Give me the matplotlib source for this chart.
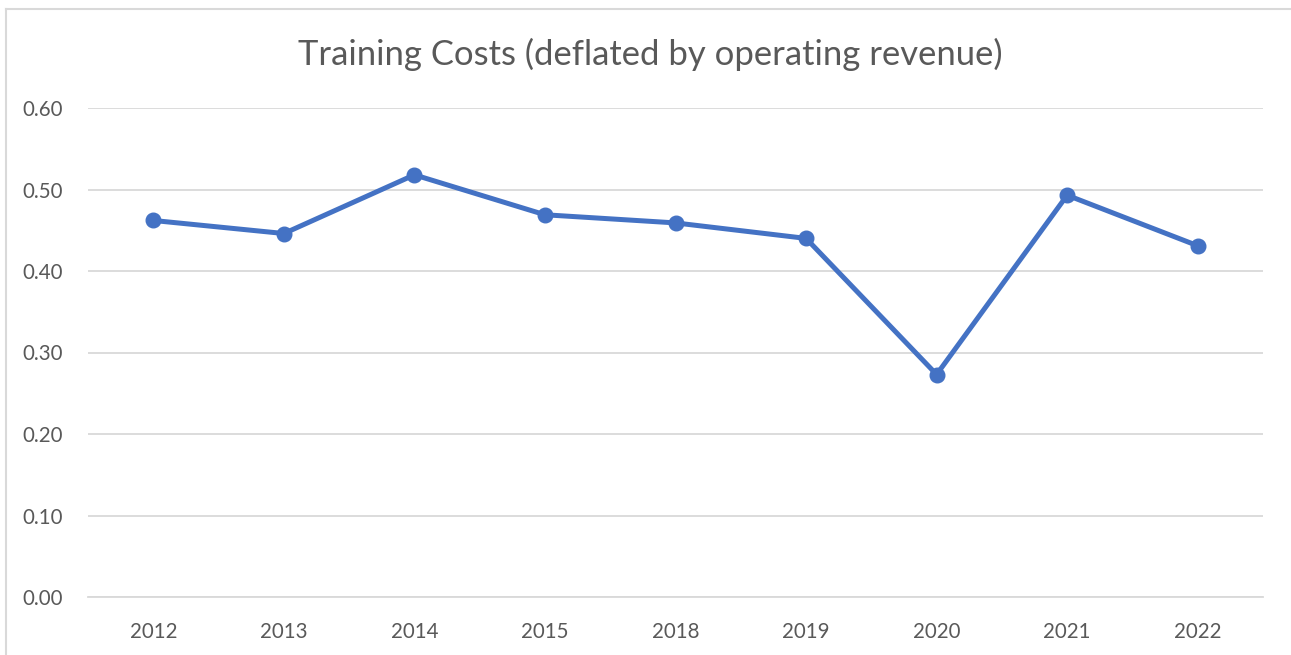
import matplotlib.pyplot as plt
from matplotlib.lines import Line2D

years = ["2012", "2013", "2014", "2015", "2018", "2019", "2020", "2021", "2022"]
costs = [0.462, 0.446, 0.518, 0.469, 0.459, 0.440, 0.273, 0.493, 0.431]
y_ticks = [0.0, 0.1, 0.2, 0.3, 0.4, 0.5, 0.6]

plt.rcParams["font.family"] = ["Lato", "DejaVu Sans"]
text_color = "#595959"
line_color = "#4472C4"
grid_color = "#d9d9d9"

fig = plt.figure(figsize=(12.91, 6.55), dpi=100)
ax = fig.add_axes([88 / 1291, 1 - 597 / 655, 1175 / 1291, 489 / 655])

x = range(len(years))
ax.plot(x, costs, color=line_color, linewidth=3.6, marker="o", markersize=10.5,
        solid_capstyle="round", zorder=3)

ax.set_xlim(-0.5, len(years) - 0.5)
ax.set_ylim(0, 0.6)
ax.set_yticks(y_ticks)
ax.set_yticklabels([f"{v:.2f}" for v in y_ticks])
ax.set_xticks(list(x))
ax.set_xticklabels(years)

ax.grid(axis="y", color=grid_color, linewidth=1.3)
ax.set_axisbelow(True)
for side in ["top", "right", "left"]:
    ax.spines[side].set_visible(False)
ax.spines["bottom"].set_color(grid_color)
ax.spines["bottom"].set_linewidth(1.3)
ax.tick_params(axis="both", length=0, labelsize=14.8, colors=text_color)
ax.tick_params(axis="y", pad=18)
ax.tick_params(axis="x", pad=18)

fig.text(650 / 1291, 1 - 54 / 655, "Training Costs (deflated by operating revenue)",
         ha="center", va="center", fontsize=24.9, color=text_color)

# chart border (only left and top edges are visible in the crop)
fig.add_artist(Line2D([6 / 1291, 6 / 1291], [0, 1 - 9 / 655], transform=fig.transFigure,
                      color=grid_color, linewidth=1.5))
fig.add_artist(Line2D([6 / 1291, 1], [1 - 9 / 655, 1 - 9 / 655], transform=fig.transFigure,
                      color=grid_color, linewidth=1.5))

fig.savefig("out.png", dpi=100)
